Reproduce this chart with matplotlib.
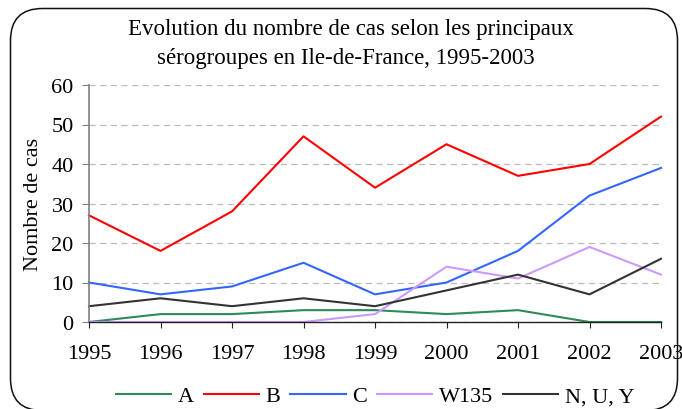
import matplotlib
matplotlib.use("Agg")
import matplotlib.pyplot as plt
from matplotlib.patches import FancyBboxPatch

years = [1995, 1996, 1997, 1998, 1999, 2000, 2001, 2002, 2003]
serie_A = [0, 2, 2, 3, 3, 2, 3, 0, 0]
serie_B = [27, 18, 28, 47, 34, 45, 37, 40, 52]
serie_C = [10, 7, 9, 15, 7, 10, 18, 32, 39]
serie_W135 = [0, 0, 0, 0, 2, 14, 11, 19, 12]
serie_NUY = [4, 6, 4, 6, 4, 8, 12, 7, 16]
labels = ["A", "B", "C", "W135", "N, U, Y"]
colors = ["#2E8B57", "#FF0000", "#3366FF", "#CC99FF", "#333333"]
yticks = [0, 10, 20, 30, 40, 50, 60]

plt.rcParams['font.family'] = ['Liberation Serif', 'DejaVu Serif']
FS = 16

W, H = 682, 410
fig = plt.figure(figsize=(W / 100, H / 100), dpi=100)

# background overlay in pixel coordinates (y upwards) for the rounded frame
bg = fig.add_axes([0, 0, 1, 1])
bg.set_xlim(0, W)
bg.set_ylim(0, H)
bg.axis("off")
frame = FancyBboxPatch((10.5, H - 411.5), 667, 402, boxstyle="round,pad=0,rounding_size=32",
                       fill=False, edgecolor="#111111", lw=1.1)
bg.add_patch(frame)

ax = fig.add_axes([89 / W, 1 - 323 / H, (661 - 89) / W, (323 - 86) / H])
ax.patch.set_alpha(0)

series = [serie_A, serie_B, serie_C, serie_W135, serie_NUY]
handles = []
for s, lab, c in zip(series, labels, colors):
    h, = ax.plot(years, s, color=c, lw=1.5, label=lab, clip_on=False)
    handles.append(h)

ax.set_xlim(years[0], years[-1])
ax.set_ylim(0, 60)
ax.set_yticks(yticks)
ax.set_xticks(years)
ax.yaxis.grid(True, linestyle=(0, (5, 3.5)), color="#BBBBBB", lw=0.9)
ax.set_axisbelow(True)
for sp in ["top", "right"]:
    ax.spines[sp].set_visible(False)
ax.spines["left"].set_color("#808080")
ax.spines["left"].set_linewidth(1.2)
ax.spines["bottom"].set_color("#222222")
ax.spines["bottom"].set_linewidth(1.0)
ax.tick_params(axis="y", direction="out", length=5, color="#808080", labelsize=FS, pad=6)
ax.tick_params(axis="x", direction="out", length=4.5, color="#222222", labelsize=FS, pad=11)
ax.set_ylabel("Nombre de cas", fontsize=FS, labelpad=6)

fig.text(351 / W, 1 - 35 / H, "Evolution du nombre de cas selon les principaux",
         ha="center", va="baseline", fontsize=16.5)
fig.text(346 / W, 1 - 64 / H, "sérogroupes en Ile-de-France, 1995-2003",
         ha="center", va="baseline", fontsize=16.5)

leg = fig.legend(handles=handles, labels=labels, loc="center",
                 bbox_to_anchor=(375 / W, 1 - 397 / H),
                 ncol=5, frameon=False, fontsize=FS, handlelength=2.5, handletextpad=0.28,
                 columnspacing=0.45, borderaxespad=0, borderpad=0)

fig.savefig("out.png", dpi=100)
